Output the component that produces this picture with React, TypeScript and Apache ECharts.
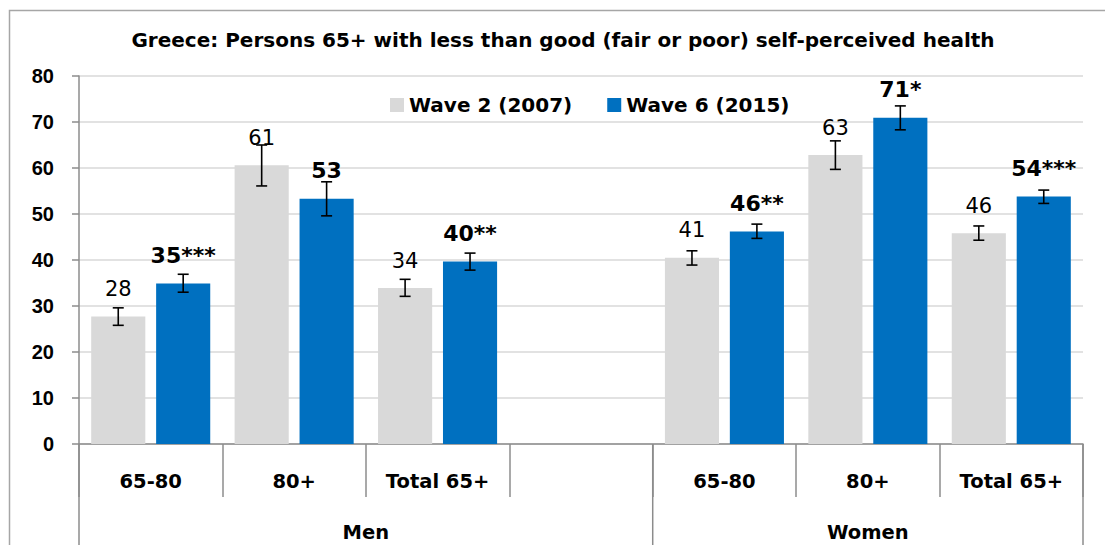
import React, { useEffect, useRef } from "react";
import * as echarts from "echarts";

const categories = ["65-80", "80+", "Total 65+", "", "65-80", "80+", "Total 65+"];
const groups = ["Men", "Women"];
const groupSpans = [4, 3];
const seriesNames = ["Wave 2 (2007)", "Wave 6 (2015)"];
const wave2Values = [27.7, 60.6, 33.9, null, 40.5, 62.8, 45.8];
const wave6Values = [34.9, 53.3, 39.7, null, 46.2, 70.9, 53.8];
const wave2Low = [25.8, 56.1, 32.1, null, 38.9, 59.7, 44.3];
const wave2High = [29.6, 65.0, 35.8, null, 42.0, 65.9, 47.4];
const wave6Low = [33.0, 49.6, 37.8, null, 44.7, 68.3, 52.3];
const wave6High = [36.9, 57.0, 41.5, null, 47.8, 73.5, 55.2];
const wave2Labels = ["28", "61", "34", "", "41", "63", "46"];
const wave6Labels = ["35***", "53", "40**", "", "46**", "71*", "54***"];
const yMin = 0;
const yMax = 80;
const yStep = 10;
const titleText = "Greece: Persons 65+ with less than good (fair or poor) self-perceived health";

const FONT = "DejaVu Sans";
const GRAY = "#D9D9D9";
const BLUE = "#0070C0";
const AXIS = "#8C8C8C";
const CAT_GAP = 0.17;
const BAR_GAP = 0.2;

function errSeries(low: (number | null)[], high: (number | null)[], sign: number) {
  const data: number[][] = [];
  low.forEach((l, i) => {
    const h = high[i];
    if (l != null && h != null) data.push([i, l, h]);
  });
  return {
    type: "custom",
    data,
    encode: { x: 0, y: [1, 2] },
    z: 10,
    silent: true,
    renderItem: (params: any, api: any) => {
      const idx = api.value(0);
      const lo = api.coord([idx, api.value(1)]);
      const hi = api.coord([idx, api.value(2)]);
      const band = api.size([1, 0])[0];
      const w = (band * (1 - CAT_GAP)) / (2 + BAR_GAP);
      const x = lo[0] + sign * (w * (1 + BAR_GAP)) / 2;
      const cap = 5.5;
      const style = { stroke: "#000", lineWidth: 1.6 };
      return {
        type: "group",
        children: [
          { type: "line", shape: { x1: x, y1: hi[1], x2: x, y2: lo[1] }, style },
          { type: "line", shape: { x1: x - cap, y1: hi[1], x2: x + cap, y2: hi[1] }, style },
          { type: "line", shape: { x1: x - cap, y1: lo[1], x2: x + cap, y2: lo[1] }, style },
        ],
      };
    },
  };
}

export default function App() {
  const ref = useRef<HTMLDivElement>(null);
  useEffect(() => {
    if (!ref.current) return;
    const chart = echarts.init(ref.current, null, { renderer: "svg" });
    chart.setOption({
      animation: false,
      backgroundColor: "#fff",
      legend: {
        data: seriesNames,
        left: 385,
        top: 90,
        icon: "rect",
        itemWidth: 14,
        itemHeight: 14,
        itemGap: 35,
        textStyle: { fontFamily: FONT, fontWeight: "bold", fontSize: 20, color: "#000" },
      },
      grid: { left: 79, right: 22, top: 76, bottom: 101, containLabel: false },
      xAxis: {
        type: "category",
        data: categories,
        axisLine: { show: true, lineStyle: { color: AXIS, width: 1.5 } },
        axisTick: { show: true, interval: 0, length: 53, lineStyle: { color: AXIS, width: 1.5 } },
        axisLabel: {
          interval: 0,
          margin: 27,
          fontFamily: FONT,
          fontWeight: "bold",
          fontSize: 19.5,
          color: "#000",
        },
        splitLine: { show: false },
      },
      yAxis: {
        type: "value",
        min: yMin,
        max: yMax,
        interval: yStep,
        axisLine: { show: true, lineStyle: { color: AXIS, width: 1.5 } },
        axisTick: { show: true, length: 7, lineStyle: { color: AXIS, width: 1.5 } },
        axisLabel: {
          margin: 25,
          fontFamily: "Liberation Sans",
          fontWeight: "bold",
          fontSize: 20,
          color: "#000",
        },
        splitLine: { show: true, lineStyle: { color: "#D9D9D9", width: 1.5 } },
      },
      series: [
        {
          name: seriesNames[0],
          type: "bar",
          data: wave2Values,
          barCategoryGap: CAT_GAP * 100 + "%",
          barGap: BAR_GAP * 100 + "%",
          itemStyle: { color: GRAY },
          label: {
            show: true,
            position: "top",
            distance: 17,
            formatter: (p: any) => wave2Labels[p.dataIndex],
            fontFamily: FONT,
            fontSize: 21,
            color: "#000",
          },
        },
        {
          name: seriesNames[1],
          type: "bar",
          data: wave6Values,
          barCategoryGap: CAT_GAP * 100 + "%",
          barGap: BAR_GAP * 100 + "%",
          itemStyle: { color: BLUE },
          label: {
            show: true,
            position: "top",
            distance: 17,
            formatter: (p: any) => wave6Labels[p.dataIndex],
            fontFamily: FONT,
            fontWeight: "bold",
            fontSize: 22,
            color: "#000",
          },
        },
        errSeries(wave2Low, wave2High, -1),
        errSeries(wave6Low, wave6High, 1),
      ],
    });

    const c0 = chart.convertToPixel({ xAxisIndex: 0 }, 0) as number;
    const c1 = chart.convertToPixel({ xAxisIndex: 0 }, 1) as number;
    const band = c1 - c0;
    const b = (i: number) => c0 - band / 2 + i * band;
    const y0 = chart.convertToPixel({ yAxisIndex: 0 }, 0) as number;
    const graphics: any[] = [
      {
        type: "rect",
        z: -1,
        shape: { x: 9.5, y: 10.5, width: 1200, height: 700 },
        style: { fill: "none", stroke: "#A6A6A6", lineWidth: 1.5 },
      },
      {
        type: "text",
        x: 563,
        y: 40,
        style: {
          text: titleText,
          fontFamily: FONT,
          fontWeight: "bold",
          fontSize: 20,
          fill: "#000",
          textAlign: "center",
          textVerticalAlign: "middle",
        },
      },
    ];
    let start = 0;
    const bounds = [0];
    groupSpans.forEach((s) => {
      start += s;
      bounds.push(start);
    });
    bounds.forEach((bi) => {
      graphics.push({
        type: "line",
        shape: { x1: b(bi), y1: y0, x2: b(bi), y2: 560 },
        style: { stroke: AXIS, lineWidth: 1.5 },
      });
    });
    groups.forEach((g, gi) => {
      graphics.push({
        type: "text",
        x: (b(bounds[gi]) + b(bounds[gi + 1])) / 2,
        y: 532,
        style: {
          text: g,
          fontFamily: FONT,
          fontWeight: "bold",
          fontSize: 19.5,
          fill: "#000",
          textAlign: "center",
          textVerticalAlign: "middle",
        },
      });
    });
    chart.setOption({ graphic: graphics });
    return () => chart.dispose();
  }, []);
  return (
    <div
      ref={ref}
      style={{ position: "absolute", left: 0, top: 0, width: 1105, height: 545 }}
    />
  );
}
